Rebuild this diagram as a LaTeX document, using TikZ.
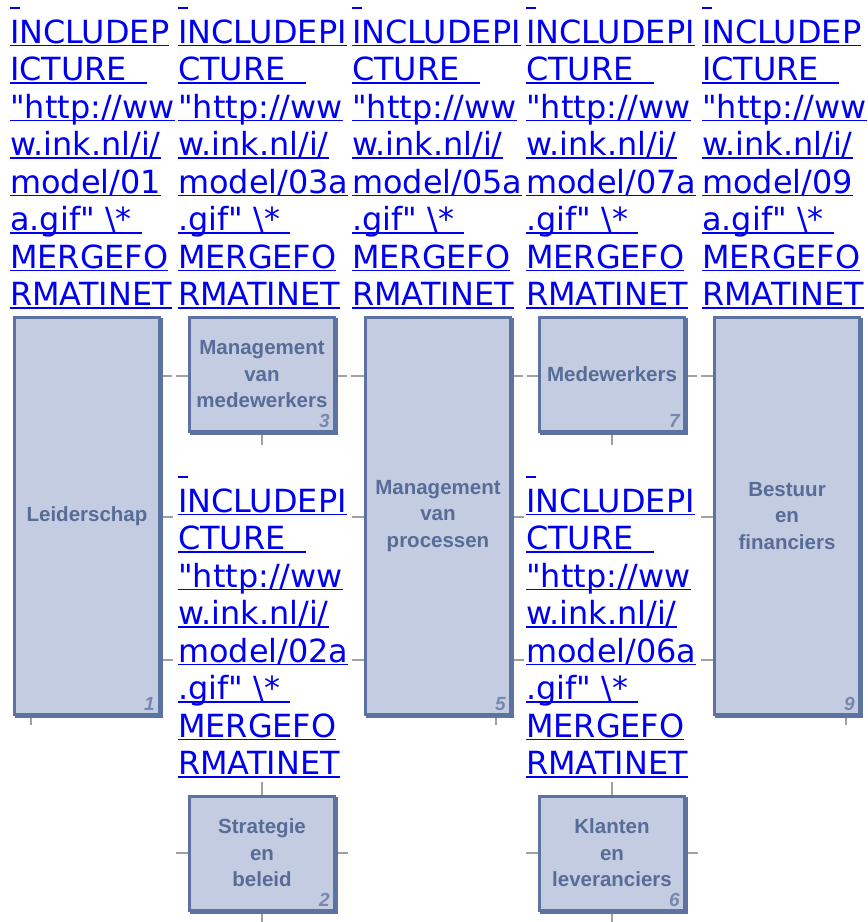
\documentclass[tikz,border=0pt]{standalone}
\usepackage{fontspec}
\newfontfamily\linkfont{DejaVu Sans}[Ligatures=TeXOff]
\newfontfamily\boxfont{Liberation Sans}
\usetikzlibrary{shadows,backgrounds}
\definecolor{linkblue}{RGB}{0,0,240}
\definecolor{boxfill}{RGB}{195,204,224}
\definecolor{boxline}{RGB}{92,114,160}
\definecolor{boxtext}{RGB}{88,108,152}
\definecolor{numblue}{RGB}{118,136,176}
\definecolor{wiregrey}{RGB}{160,160,160}
\newsavebox\ulbox
\newcommand\undl[1]{\sbox\ulbox{#1}\rlap{\rule[-3.4pt]{\wd\ulbox}{1.7pt}}\usebox\ulbox}
\newcommand\imgref[4]{\vtop{%
  \hbox{\undl{\ }}%
  \hbox{\undl{#1}}%
  \hbox{\undl{#2\ \ }}%
  \hbox{\undl{\symbol{34}http://ww}}%
  \hbox{\undl{w.ink.nl/i/}}%
  \hbox{\undl{model/#3}}%
  \hbox{\undl{#4.gif\symbol{34}\ \textbackslash*\ }}%
  \hbox{\undl{MERGEFO}}%
  \hbox{\undl{RMATINET}}}}
\tikzset{
imglink/.style={anchor=base west, inner sep=0pt, text=linkblue,
  font=\linkfont\fontsize{31.9}{37.5}\selectfont},
ink/.style={draw=boxline, line width=3pt, fill=boxfill, inner sep=0pt,
  text=boxtext, align=center, font=\boxfont\bfseries\fontsize{20.5}{26.5}\selectfont,
  general shadow={draw=boxline, fill=boxline, line width=3pt, shadow xshift=2pt, shadow yshift=-2pt}},
tall/.style={ink, minimum width=145pt, minimum height=397pt},
short/.style={ink, minimum width=145pt, minimum height=114pt},
num/.style={anchor=south east, inner sep=0pt, text=numblue,
  font=\boxfont\bfseries\itshape\fontsize{19}{19}\selectfont},
wire/.style={draw=wiregrey, line width=2.5pt}
}

\begin{document}
\begin{tikzpicture}[x=1pt, y=-1pt]
    \useasboundingbox (0,0) rectangle (868,922);
    % picture references of the broken page
    \foreach \nr/\px/\wa/\wb/\pf in {01/10/INCLUDEP/ICTURE/a, 03a/178/INCLUDEPI/CTURE/{}, 05a/352/INCLUDEPI/CTURE/{}, 07a/526/INCLUDEPI/CTURE/{}, 09/702/INCLUDEP/ICTURE/a}
      \node[imglink] (ref\nr) at (\px,5.5) {\imgref{\wa}{\wb}{\nr}{\pf}};
    \node[imglink] (ref02a) at (178,474.5) {\imgref{INCLUDEPI}{CTURE}{02a}{}};
    \node[imglink] (ref06a) at (526,474.5) {\imgref{INCLUDEPI}{CTURE}{06a}{}};
    % model boxes
    \node[tall] (leiding) at (87,516) {Leiderschap};
    \node[short] (mvm) at (262,374.5) {Management\\van\\medewerkers};
    \node[tall] (processen) at (438,516) {Management\\van\\processen};
    \node[short] (medewerkers) at (612,374.5) {Medewerkers};
    \node[tall] (bestuur) at (787,516) {Bestuur\\en\\financiers};
    \node[short] (strategie) at (262,853) {Strategie\\en\\beleid};
    \node[short] (klanten) at (612,853) {Klanten\\en\\leveranciers};
    \foreach \b/\n in {leiding/1, strategie/2, mvm/3, processen/5, klanten/6, medewerkers/7, bestuur/9}
      \node[num] (n\n) at ([shift={(-6,-5)}]\b.south east) {\n};
    \begin{scope}[on background layer]
      \foreach \a/\b in {leiding/mvm, mvm/processen, processen/medewerkers, medewerkers/bestuur}
        \draw[wire, dash pattern=on 11pt off 4pt on 40pt off 0pt] (\a.east |- 0,376) -- (\b.west |- 0,376);
      \foreach \y in {517,660} {
        \draw[wire] (leiding.east |- 0,\y) -- ++(12,0);
        \draw[wire] (processen.west |- 0,\y) -- ++(-12,0);
        \draw[wire] (processen.east |- 0,\y) -- ++(12,0);
        \draw[wire] (bestuur.west |- 0,\y) -- ++(-12,0);
      }
      \draw[wire] ([xshift=18pt]leiding.south west) -- ++(0,9);
      \draw[wire] (mvm.south) -- ++(0,12);
      \draw[wire] ([xshift=-16pt]processen.south east) -- ++(0,9);
      \draw[wire] (medewerkers.south) -- ++(0,12);
      \draw[wire] ([xshift=-15pt]bestuur.south east) -- ++(0,9);
      \foreach \b in {strategie, klanten} {
        \draw[wire] (\b.north) -- ++(0,-13);
        \draw[wire] (\b.west) -- ++(-12,0);
        \draw[wire] (\b.east) -- ++(12,0);
        \draw[wire] (\b.south) -- ++(0,12);
      }
    \end{scope}
\end{tikzpicture}
\end{document}
